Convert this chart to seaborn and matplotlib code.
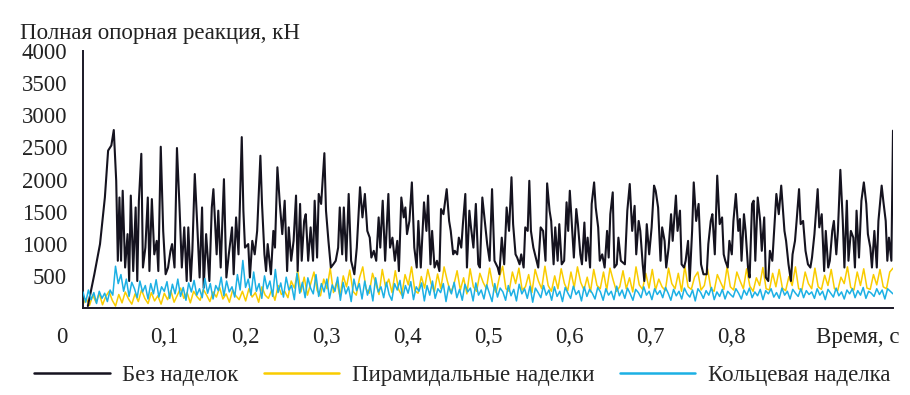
import matplotlib
matplotlib.use("Agg")
import matplotlib.pyplot as plt
import numpy as np
import pandas as pd
import seaborn as sns

# Без наделок: (time, value) pairs
black_t = [
    0.006, 0.014, 0.021, 0.027, 0.031, 0.035, 0.038, 0.041, 0.043, 0.045, 0.047, 0.049, 0.052, 0.055, 0.057,
    0.059, 0.062, 0.065, 0.067, 0.069, 0.072, 0.074, 0.077, 0.080, 0.082, 0.085, 0.088, 0.091, 0.093, 0.096,
    0.099, 0.102, 0.105, 0.108, 0.110, 0.113, 0.116, 0.119, 0.122, 0.125, 0.128, 0.130, 0.133, 0.135, 0.138,
    0.141, 0.144, 0.147, 0.149, 0.152, 0.156, 0.159, 0.161, 0.165,
    0.167, 0.170, 0.174, 0.177, 0.180, 0.184, 0.186, 0.189, 0.192, 0.196, 0.198, 0.200, 0.204, 0.206, 0.209,
    0.212, 0.215, 0.219, 0.221, 0.224, 0.226, 0.228, 0.232, 0.235, 0.237, 0.240, 0.243, 0.246, 0.249, 0.252,
    0.254, 0.257, 0.260, 0.263, 0.265, 0.268, 0.270, 0.273, 0.275, 0.278, 0.281, 0.284, 0.286, 0.289, 0.291,
    0.294, 0.298, 0.300, 0.303, 0.306, 0.309, 0.312, 0.315, 0.317, 0.320, 0.322, 0.325, 0.328, 0.331,
    0.335, 0.338, 0.342, 0.345, 0.348, 0.351, 0.354, 0.356, 0.359, 0.362, 0.365, 0.367, 0.370, 0.373, 0.377,
    0.379, 0.382, 0.385, 0.388, 0.390, 0.393, 0.396, 0.398, 0.400, 0.403, 0.406, 0.409, 0.412, 0.414, 0.417,
    0.421, 0.424, 0.426, 0.429, 0.431, 0.434, 0.437, 0.440, 0.442, 0.445, 0.449, 0.452, 0.454, 0.457, 0.459,
    0.462, 0.464, 0.467, 0.469, 0.472, 0.474, 0.477, 0.479, 0.482, 0.485, 0.488, 0.490, 0.493, 0.496, 0.499,
    0.502, 0.505, 0.508, 0.512, 0.514, 0.517, 0.520, 0.523, 0.526, 0.529, 0.531, 0.534, 0.536, 0.539, 0.541,
    0.544, 0.546, 0.549, 0.551, 0.553, 0.556, 0.558, 0.562, 0.565, 0.568, 0.571, 0.573, 0.576, 0.578, 0.581,
    0.583, 0.586, 0.588, 0.591, 0.594, 0.597, 0.599, 0.601, 0.604, 0.606, 0.609, 0.611, 0.614, 0.616, 0.619,
    0.621, 0.623, 0.626, 0.628, 0.631, 0.633, 0.636, 0.638, 0.641, 0.644, 0.647, 0.649, 0.651, 0.654, 0.656,
    0.659, 0.661, 0.664,
    0.669, 0.672, 0.675, 0.678, 0.681, 0.683, 0.686, 0.688, 0.691, 0.693, 0.696, 0.699, 0.702, 0.705, 0.707,
    0.710, 0.713, 0.715, 0.718, 0.720, 0.723, 0.726, 0.728, 0.732, 0.734, 0.737, 0.739, 0.742, 0.744, 0.747,
    0.749, 0.752, 0.754, 0.757, 0.760, 0.763, 0.766, 0.770, 0.772, 0.775, 0.777, 0.780, 0.783, 0.786, 0.789,
    0.791, 0.793, 0.796, 0.798, 0.801, 0.803, 0.806, 0.809, 0.811, 0.813, 0.816, 0.818, 0.821, 0.823, 0.826,
    0.828, 0.830,
    0.833, 0.836, 0.838, 0.841, 0.843, 0.846, 0.848, 0.851, 0.854, 0.856, 0.859, 0.862, 0.866, 0.868, 0.871,
    0.874, 0.876, 0.879, 0.881, 0.884, 0.886, 0.889, 0.892, 0.895, 0.898, 0.900, 0.903, 0.907, 0.909, 0.912,
    0.915, 0.917, 0.920, 0.922, 0.925, 0.927, 0.930, 0.932, 0.935, 0.938, 0.940, 0.943, 0.945, 0.948, 0.951,
    0.953, 0.955, 0.958, 0.961, 0.964, 0.967, 0.969, 0.972, 0.974, 0.977, 0.980, 0.982, 0.986, 0.988, 0.991,
    0.993, 0.995, 0.998, 1.000,
]
black_v = [
    30, 525, 995, 1720, 2450, 2530, 2770, 1980, 735, 1720, 735, 1825, 630, 1150, 420,
    1750, 575, 1565, 420, 1670, 2400, 630, 940, 1720, 575, 1695, 835, 1045, 575, 2510,
    1200, 525, 630, 890, 995, 630, 2490, 1620, 630, 1255, 420, 1255, 420, 890, 2085,
    1305, 475, 1565, 315, 1150, 420, 1565, 1850, 835,
    1515, 630, 2005, 475, 835, 1255, 525, 1410, 835, 2660, 1515, 940, 995, 475, 1045,
    835, 1200, 2370, 1620, 835, 575, 995, 525, 1200, 940, 2190, 1620, 1150, 1670, 575,
    1255, 735, 1045, 1750, 575, 1620, 735, 1355, 1460, 735, 1255, 735, 1670, 785, 1775,
    1620, 2410, 1515, 1045, 630, 680, 735, 940, 1565, 835, 1565, 735, 1775, 735,
    525, 940, 1880, 1410, 1775, 1200, 1095, 785, 890, 735, 1410, 940, 1670, 735, 1775,
    940, 1095, 735, 1045, 575, 1720, 1410, 1565, 1150, 1355, 1955, 940, 630, 1355, 630,
    1645, 1200, 1750, 680, 1200, 630, 735, 575, 1540, 1460, 1850, 1355, 1200, 835, 890,
    835, 1095, 940, 1305, 1775, 630, 1515, 1255, 940, 1620, 680, 630, 1720, 1355, 995,
    735, 1850, 735, 630, 525, 1095, 680, 1565, 1200, 2035, 1305, 835, 785, 680, 835,
    630, 1255, 1200, 1980, 1200, 940, 835, 630, 1255, 1200, 735, 1940, 1515, 1355, 680,
    1255, 735, 1305, 680, 735, 1645, 1200, 1825, 1200, 785, 1540, 1305, 835, 680, 1330,
    735, 1095, 630, 1620, 1955, 1565, 1255, 735, 835, 630, 1200, 785, 1460, 1800, 630,
    680, 1095, 735,
    680, 1515, 1930, 1200, 1590, 835, 1355, 1200, 680, 420, 1305, 835, 1255, 1905, 1825,
    1565, 735, 1255, 1045, 630, 940, 1460, 1045, 1750, 1200, 1515, 680, 630, 735, 1045,
    420, 1200, 1955, 1355, 1620, 680, 525, 525, 995, 1355, 1460, 835, 2060, 1305, 1410,
    835, 735, 630, 1045, 835, 1355, 1775, 1200, 1385, 735, 1460, 1200, 630, 475, 1620,
    1670, 735,
    1720, 1355, 890, 1410, 475, 420, 890, 735, 1355, 1775, 1460, 1905, 1200, 1045, 680,
    420, 835, 1045, 1355, 1850, 1305, 1355, 890, 680, 630, 785, 1150, 1850, 1255, 1460,
    575, 1200, 630, 735, 1200, 1355, 835, 1200, 2150, 1355, 630, 1670, 735, 1200, 1095,
    630, 1515, 785, 1670, 1955, 1620, 1150, 940, 630, 1200, 630, 1355, 1905, 1670, 1355,
    735, 1095, 735, 2760,
]

# Пирамидальные наделки, evenly sampled over 0..1 s
yellow_v = [
    60, 150, 40, 200, 90, 230, 50, 180, 260, 120, 30, 210, 80, 250, 140, 60, 220, 100, 280, 150, 70, 240, 110, 190, 60,
    230, 130, 270, 90, 200, 310, 150, 240, 80, 260, 180, 120, 290, 200, 100, 250, 170, 320, 140, 220, 90, 280, 190, 130, 260,
    110, 300, 170, 240, 90, 330, 200, 150, 280, 120, 350, 210, 260, 160, 420, 310, 580, 250, 480, 200, 380, 560, 270, 190, 450,
    300, 620, 240, 410, 180, 500, 330, 590, 260, 200, 470, 640, 300, 230, 540, 380, 210, 600, 330, 450, 240, 580, 290, 200, 520,
    360, 640, 270, 230, 490, 310, 600, 380, 250, 530, 300, 640, 420, 240, 360, 580, 280, 470, 220, 610, 330, 260, 540, 400, 300,
    620, 350, 240, 480, 650, 300, 260, 560, 380, 620, 280, 330, 520, 240, 600, 420, 300, 650, 350, 260, 500, 300, 610, 380, 270,
    560, 320, 640, 400, 280, 480, 250, 600, 350, 300, 560, 280, 620, 430, 260, 330, 580, 300, 470, 250, 640, 360, 290, 540, 310,
    600, 280, 450, 330, 270, 620, 380, 300, 540, 260, 650, 330, 290, 480, 560, 280, 350, 610, 300, 260, 520, 400, 290, 640, 330,
    280, 560, 420, 300, 610, 340, 260, 470, 350, 630, 300, 280, 540, 330, 600, 310, 270, 490, 350, 640, 300, 280, 560, 380, 300,
    620, 330, 290, 510, 350, 600, 300, 270, 480, 380, 640, 320, 280, 560, 350, 610, 310, 290, 520, 360, 600, 330, 300, 560, 620,
]

# Кольцевая наделка, evenly sampled over 0..1 s
blue_v = [
    250, 90, 280, 130, 240, 70, 260, 150, 230, 100, 280, 200, 650, 380, 520, 260, 450, 180, 400, 300, 160, 420, 250, 350, 140, 380, 220, 440, 170, 330,
    260, 410, 150, 370, 220, 450, 180, 320, 120, 390, 250, 430, 200, 300, 160, 460, 230, 380, 140, 350, 270, 480, 190, 420, 250, 330, 170, 520, 280, 740,
    320, 450, 200, 560, 260, 380, 150, 500, 300, 420, 180, 600, 240, 390, 170, 480, 280, 350, 130, 540, 230, 400, 160, 470, 310, 220, 520, 180, 380, 250,
    450, 150, 360, 260, 480, 120, 400, 220, 330, 100, 450, 270, 380, 140, 420, 200, 350, 110, 470, 250, 330, 160, 400, 210, 120, 380, 280, 430, 150, 350,
    230, 410, 130, 330, 260, 390, 110, 350, 200, 420, 150, 300, 240, 380, 100, 340, 220, 400, 160, 290, 120, 370, 250, 310, 110, 390, 200, 280, 140, 360,
    230, 100, 380, 170, 310, 250, 120, 350, 190, 290, 110, 370, 220, 300, 150, 340, 90, 310, 240, 160, 350, 200, 280, 120, 330, 180, 260, 100, 320, 230,
    150, 340, 210, 270, 110, 330, 180, 290, 230, 140, 320, 250, 120, 300, 200, 260, 130, 340, 190, 280, 150, 310, 220, 120, 290, 240, 160, 330, 200, 260,
    130, 300, 210, 270, 160, 320, 230, 120, 290, 190, 260, 140, 310, 220, 170, 280, 110, 300, 240, 150, 270, 200, 320, 130, 250, 180, 290, 140, 260, 210,
    170, 300, 230, 140, 280, 200, 310, 160, 250, 190, 290, 130, 270, 220, 300, 170, 240, 150, 310, 200, 260, 140, 290, 230, 180, 300, 160, 270, 210, 250,
    150, 300, 200, 260, 130, 290, 230, 170, 310, 190, 250, 140, 280, 220, 300, 160, 270, 200, 320, 150, 260, 230, 180, 300, 210, 280, 140, 300, 260, 220,
]

y_ticks = [500, 1000, 1500, 2000, 2500, 3000, 3500, 4000]
x_ticks = [0.1, 0.2, 0.3, 0.4, 0.5, 0.6, 0.7, 0.8, 0.9, 1.0]
x_labels = ["0,1", "0,2", "0,3", "0,4", "0,5", "0,6", "0,7", "0,8", "", ""]

names = ["Без наделок", "Пирамидальные наделки", "Кольцевая наделка"]
colors = ["#15131f", "#f9cc00", "#1cb0e4"]

df_black = pd.DataFrame({"t": black_t, "v": black_v})
df_yellow = pd.DataFrame({"t": np.linspace(0, 1, len(yellow_v)), "v": yellow_v})
df_blue = pd.DataFrame({"t": np.linspace(0, 1, len(blue_v)), "v": blue_v})

FS = 16.5
sns.set_style("white")
plt.rcParams["font.family"] = ["Liberation Serif", "DejaVu Sans"]
plt.rcParams["font.size"] = FS

fig = plt.figure(figsize=(9.1, 3.95), dpi=100)
ax = fig.add_axes([83 / 910, 1 - 308 / 395, 810 / 910, 257 / 395])

sns.lineplot(data=df_yellow, x="t", y="v", ax=ax, color=colors[1], lw=1.1,
             estimator=None, sort=False, label=names[1], zorder=2)
sns.lineplot(data=df_black, x="t", y="v", ax=ax, color=colors[0], lw=1.5,
             estimator=None, sort=False, label=names[0], zorder=3)
sns.lineplot(data=df_blue, x="t", y="v", ax=ax, color=colors[2], lw=1.1,
             estimator=None, sort=False, label=names[2], zorder=4)

ax.set_xlim(0, 1.0)
ax.set_ylim(0, 4000)
ax.set_yticks(y_ticks)
ax.set_yticklabels([str(v) for v in y_ticks])
ax.set_xticks(x_ticks)
ax.set_xticklabels(x_labels)
ax.set_xlabel("")
ax.set_ylabel("")
for side in ["top", "right"]:
    ax.spines[side].set_visible(False)
for side in ["left", "bottom"]:
    ax.spines[side].set_color("#1a1826")
    ax.spines[side].set_linewidth(1.4)
ax.tick_params(axis="both", direction="inout", length=7, width=1.4, color="#1a1826",
               labelsize=FS, labelcolor="#222222")
ax.tick_params(axis="x", pad=10)
ax.tick_params(axis="y", pad=8)

xt = ax.get_xaxis_transform()
ax.text(-0.026, -0.113, "0", transform=xt, ha="center", va="center", fontsize=FS, color="#222222")
ax.text(0.956, -0.113, "Время, с", transform=xt, ha="center", va="center", fontsize=FS, color="#222222")
fig.text(20 / 910, 1 - 33 / 395, "Полная опорная реакция, кН", ha="left", va="center",
         fontsize=FS, color="#222222")

# legend below the axes, in the order of the reference
handles, labels = ax.get_legend_handles_labels()
order = [labels.index(n) for n in names]
ax.get_legend().remove()
leg = fig.legend([handles[i] for i in order], [labels[i] for i in order],
                 loc="center", bbox_to_anchor=(0.508, 0.05), ncol=3, frameon=False,
                 handlelength=3.3, handletextpad=0.55, columnspacing=1.1, fontsize=FS)
for line in leg.get_lines():
    line.set_linewidth(1.8)

fig.savefig("out.png", dpi=100)
